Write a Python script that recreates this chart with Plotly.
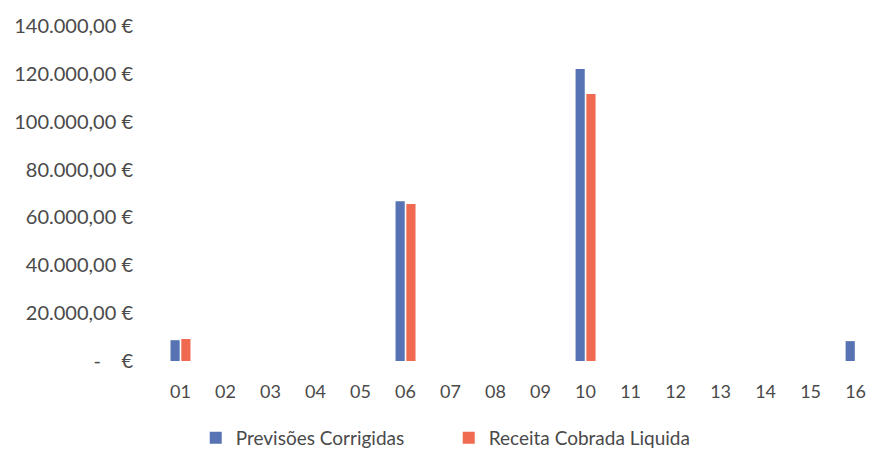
import plotly.graph_objects as go

categories = ["01", "02", "03", "04", "05", "06", "07", "08", "09", "10", "11", "12", "13", "14", "15", "16"]
previsoes = [8700, 0, 0, 0, 0, 66800, 0, 0, 0, 122000, 0, 0, 0, 0, 0, 8300]
receita = [9200, 0, 0, 0, 0, 65600, 0, 0, 0, 111600, 0, 0, 0, 0, 0, 0]
ytick_vals = [0, 20000, 40000, 60000, 80000, 100000, 120000, 140000]
ytick_text = ["-    €", "20.000,00 €", "40.000,00 €", "60.000,00 €", "80.000,00 €",
              "100.000,00 €", "120.000,00 €", "140.000,00 €"]

font_family = "Lato, Open Sans, sans-serif"
text_color = "#4a4a4a"

fig = go.Figure()
fig.add_trace(go.Bar(x=categories, y=previsoes, name="Previsões Corrigidas",
                     marker=dict(color="#5773B3", line=dict(width=0))))
fig.add_trace(go.Bar(x=categories, y=receita, name="Receita Cobrada Liquida",
                     marker=dict(color="#F06A52", line=dict(width=0))))

fig.update_layout(
    width=870, height=457,
    margin=dict(l=158, r=0, t=26, b=90),
    paper_bgcolor="white", plot_bgcolor="white",
    barmode="group", bargap=0.52, bargroupgap=0.15,
    font=dict(family=font_family, size=18, color=text_color),
    showlegend=True,
    legend=dict(orientation="h", x=0.053, xanchor="left", y=-0.23, yanchor="middle",
                font=dict(size=19, color=text_color), itemwidth=30,
                entrywidth=208, entrywidthmode="pixels",
                traceorder="normal"),
)
fig.update_xaxes(type="category", range=[-0.5, 15.32], showgrid=False, showline=False,
                 zeroline=False, ticks="", ticklabelstandoff=18,
                 tickfont=dict(size=18, color=text_color))
fig.update_yaxes(range=[0, 140000], tickvals=ytick_vals, ticktext=ytick_text,
                 showgrid=False, showline=False, zeroline=False, ticks="",
                 ticklabelstandoff=24, tickfont=dict(size=20, color=text_color))

fig.write_html(
    "out.html",
    config={"displayModeBar": False},
    post_script="document.body.style.margin='0';document.body.style.overflow='hidden';",
)
